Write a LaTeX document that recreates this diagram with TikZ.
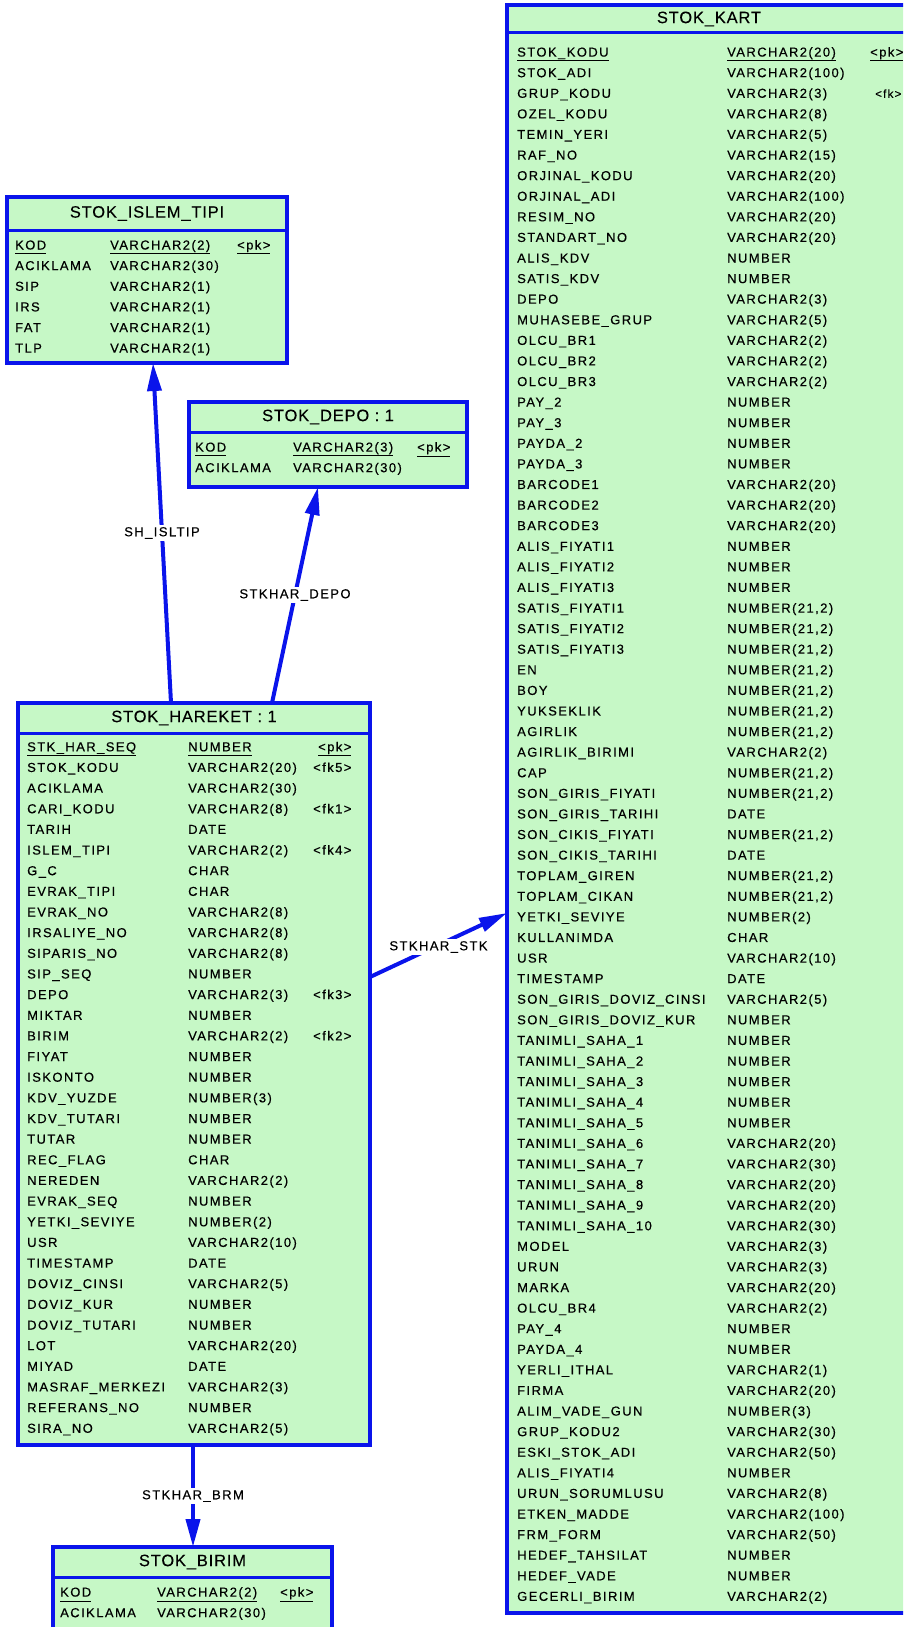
\documentclass[tikz,border=0pt]{standalone}
\usepackage{xcolor}
\usepackage{fontspec}
\usepackage{tikz}
\usetikzlibrary{arrows.meta}
\setmainfont{Liberation Sans}
\newfontfamily\erfont[LetterSpace=11, FakeBold=0.4]{Liberation Sans}
\newfontfamily\hdfont[LetterSpace=5, FakeBold=0.2]{Liberation Sans}
\definecolor{erblue}{RGB}{10,20,235}
\definecolor{ergreen}{RGB}{198,248,198}
\newcommand{\pkline}[1]{\underline{\vphantom{()}#1}}
\tikzset{
  tablebox/.style={rectangle, draw=erblue, fill=ergreen, line width=4pt,
    inner sep=0pt, outer sep=0pt, anchor=north west},
  sepline/.style={draw=erblue, line width=3pt},
  tabtitle/.style={font=\hdfont\fontsize{16.5}{18}\selectfont, inner sep=0pt},
  fieldtxt/.style={font=\erfont\fontsize{13}{15}\selectfont, anchor=base west, inner sep=0pt},
  reftxt/.style={font=\erfont\fontsize{13}{15}\selectfont, fill=white, inner sep=2pt},
  refline/.style={draw=erblue, line width=4pt, -{Triangle[length=28pt,width=14pt]}}
}

\begin{document}
\begin{tikzpicture}[x=1pt, y=-1pt]
  \useasboundingbox (0,0) rectangle (903,1627);
  \clip (0,0) rectangle (903,1627);

  % STOK_ISLEM_TIPI
  \node[tablebox, minimum width=280pt, minimum height=166pt] (islem) at (7,197) {};
  \draw[sepline] ([yshift=-33pt]islem.north west) -- ([yshift=-33pt]islem.north east);
  \node[tabtitle] (islem-title) at ([yshift=-16.5pt]islem.north) {STOK\_ISLEM\_TIPI};
  \node[fieldtxt] (islem-f0) at (15,249.5) {\pkline{KOD}};
  \node[fieldtxt] (islem-t0) at (110,249.5) {\pkline{VARCHAR2(2)}};
  \node[fieldtxt] (islem-k0) at (237,249.5) {\pkline{<pk>}};
  \foreach \f/\t [count=\i from 1] in {ACIKLAMA/VARCHAR2(30), SIP/VARCHAR2(1),
      IRS/VARCHAR2(1), FAT/VARCHAR2(1), TLP/VARCHAR2(1)} {
    \node[fieldtxt] (islem-f\i) at (15,{249.5+\i*20.63}) {\f};
    \node[fieldtxt] (islem-t\i) at (110,{249.5+\i*20.63}) {\t};
  }

  % STOK_DEPO
  \node[tablebox, minimum width=278pt, minimum height=85pt] (depo) at (189,402) {};
  \draw[sepline] ([yshift=-30pt]depo.north west) -- ([yshift=-30pt]depo.north east);
  \node[tabtitle] (depo-title) at ([yshift=-15pt]depo.north) {STOK\_DEPO : 1};
  \node[fieldtxt] (depo-f0) at (195,451.6) {\pkline{KOD}};
  \node[fieldtxt] (depo-t0) at (293,451.6) {\pkline{VARCHAR2(3)}};
  \node[fieldtxt] (depo-k0) at (417,451.6) {\pkline{<pk>}};
  \node[fieldtxt] (depo-f1) at (195,472.2) {ACIKLAMA};
  \node[fieldtxt] (depo-t1) at (293,472.2) {VARCHAR2(30)};

  % STOK_KART
  \node[tablebox, minimum width=404pt, minimum height=1608pt] (kart) at (507,5) {};
  \draw[sepline] ([yshift=-28pt]kart.north west) -- ([yshift=-28pt]kart.north east);
  \node[tabtitle] (kart-title) at ([yshift=-14pt]kart.north) {STOK\_KART};
  \node[fieldtxt] (kart-f0) at (517,56.6) {\pkline{STOK\_KODU}};
  \node[fieldtxt] (kart-t0) at (727,56.6) {\pkline{VARCHAR2(20)}};
  \node[fieldtxt] (kart-k0) at (870,56.6) {\pkline{<pk>}};
  \foreach \f/\t [count=\i from 1] in {
      STOK\_ADI/VARCHAR2(100), GRUP\_KODU/VARCHAR2(3), OZEL\_KODU/VARCHAR2(8),
      TEMIN\_YERI/VARCHAR2(5), RAF\_NO/VARCHAR2(15), ORJINAL\_KODU/VARCHAR2(20),
      ORJINAL\_ADI/VARCHAR2(100), RESIM\_NO/VARCHAR2(20), STANDART\_NO/VARCHAR2(20),
      ALIS\_KDV/NUMBER, SATIS\_KDV/NUMBER, DEPO/VARCHAR2(3),
      MUHASEBE\_GRUP/VARCHAR2(5), OLCU\_BR1/VARCHAR2(2), OLCU\_BR2/VARCHAR2(2),
      OLCU\_BR3/VARCHAR2(2), PAY\_2/NUMBER, PAY\_3/NUMBER, PAYDA\_2/NUMBER,
      PAYDA\_3/NUMBER, BARCODE1/VARCHAR2(20), BARCODE2/VARCHAR2(20),
      BARCODE3/VARCHAR2(20), ALIS\_FIYATI1/NUMBER, ALIS\_FIYATI2/NUMBER,
      ALIS\_FIYATI3/NUMBER, SATIS\_FIYATI1/{NUMBER(21,2)}, SATIS\_FIYATI2/{NUMBER(21,2)},
      SATIS\_FIYATI3/{NUMBER(21,2)}, EN/{NUMBER(21,2)}, BOY/{NUMBER(21,2)},
      YUKSEKLIK/{NUMBER(21,2)}, AGIRLIK/{NUMBER(21,2)}, AGIRLIK\_BIRIMI/VARCHAR2(2),
      CAP/{NUMBER(21,2)}, SON\_GIRIS\_FIYATI/{NUMBER(21,2)}, SON\_GIRIS\_TARIHI/DATE,
      SON\_CIKIS\_FIYATI/{NUMBER(21,2)}, SON\_CIKIS\_TARIHI/DATE,
      TOPLAM\_GIREN/{NUMBER(21,2)}, TOPLAM\_CIKAN/{NUMBER(21,2)},
      YETKI\_SEVIYE/NUMBER(2), KULLANIMDA/CHAR, USR/VARCHAR2(10), TIMESTAMP/DATE,
      SON\_GIRIS\_DOVIZ\_CINSI/VARCHAR2(5), SON\_GIRIS\_DOVIZ\_KUR/NUMBER,
      TANIMLI\_SAHA\_1/NUMBER, TANIMLI\_SAHA\_2/NUMBER, TANIMLI\_SAHA\_3/NUMBER,
      TANIMLI\_SAHA\_4/NUMBER, TANIMLI\_SAHA\_5/NUMBER, TANIMLI\_SAHA\_6/VARCHAR2(20),
      TANIMLI\_SAHA\_7/VARCHAR2(30), TANIMLI\_SAHA\_8/VARCHAR2(20),
      TANIMLI\_SAHA\_9/VARCHAR2(20), TANIMLI\_SAHA\_10/VARCHAR2(30),
      MODEL/VARCHAR2(3), URUN/VARCHAR2(3), MARKA/VARCHAR2(20), OLCU\_BR4/VARCHAR2(2),
      PAY\_4/NUMBER, PAYDA\_4/NUMBER, YERLI\_ITHAL/VARCHAR2(1), FIRMA/VARCHAR2(20),
      ALIM\_VADE\_GUN/NUMBER(3), GRUP\_KODU2/VARCHAR2(30), ESKI\_STOK\_ADI/VARCHAR2(50),
      ALIS\_FIYATI4/NUMBER, URUN\_SORUMLUSU/VARCHAR2(8), ETKEN\_MADDE/VARCHAR2(100),
      FRM\_FORM/VARCHAR2(50), HEDEF\_TAHSILAT/NUMBER, HEDEF\_VADE/NUMBER,
      GECERLI\_BIRIM/VARCHAR2(2)} {
    \node[fieldtxt] (kart-f\i) at (517,{56.6+\i*20.59}) {\f};
    \node[fieldtxt] (kart-t\i) at (727,{56.6+\i*20.59}) {\t};
  }
  \node[fieldtxt, font=\erfont\fontsize{11.5}{13}\selectfont] (kart-k2) at (875,{56.6+2*20.59})
    {<fk>};

  % STOK_HAREKET
  \node[tablebox, minimum width=352pt, minimum height=742pt] (hareket) at (18,703) {};
  \draw[sepline] ([yshift=-30pt]hareket.north west) -- ([yshift=-30pt]hareket.north east);
  \node[tabtitle] (hareket-title) at ([yshift=-15pt]hareket.north) {STOK\_HAREKET : 1};
  \node[fieldtxt] (hareket-f0) at (27,751.3) {\pkline{STK\_HAR\_SEQ}};
  \node[fieldtxt] (hareket-t0) at (188,751.3) {\pkline{NUMBER}};
  \node[fieldtxt] (hareket-k0) at (318,751.3) {\pkline{<pk>}};
  \foreach \f/\t [count=\i from 1] in {
      STOK\_KODU/VARCHAR2(20), ACIKLAMA/VARCHAR2(30), CARI\_KODU/VARCHAR2(8),
      TARIH/DATE, ISLEM\_TIPI/VARCHAR2(2), G\_C/CHAR, EVRAK\_TIPI/CHAR,
      EVRAK\_NO/VARCHAR2(8), IRSALIYE\_NO/VARCHAR2(8), SIPARIS\_NO/VARCHAR2(8),
      SIP\_SEQ/NUMBER, DEPO/VARCHAR2(3), MIKTAR/NUMBER, BIRIM/VARCHAR2(2),
      FIYAT/NUMBER, ISKONTO/NUMBER, KDV\_YUZDE/NUMBER(3), KDV\_TUTARI/NUMBER,
      TUTAR/NUMBER, REC\_FLAG/CHAR, NEREDEN/VARCHAR2(2), EVRAK\_SEQ/NUMBER,
      YETKI\_SEVIYE/NUMBER(2), USR/VARCHAR2(10), TIMESTAMP/DATE,
      DOVIZ\_CINSI/VARCHAR2(5), DOVIZ\_KUR/NUMBER, DOVIZ\_TUTARI/NUMBER,
      LOT/VARCHAR2(20), MIYAD/DATE, MASRAF\_MERKEZI/VARCHAR2(3),
      REFERANS\_NO/NUMBER, SIRA\_NO/VARCHAR2(5)} {
    \node[fieldtxt] (hareket-f\i) at (27,{751.3+\i*20.65}) {\f};
    \node[fieldtxt] (hareket-t\i) at (188,{751.3+\i*20.65}) {\t};
  }
  \foreach \k/\i in {fk5/1, fk1/3, fk4/5, fk3/12, fk2/14} {
    \node[fieldtxt] (hareket-k\i) at (313,{751.3+\i*20.65}) {<\k>};
  }

  % STOK_BIRIM
  \node[tablebox, minimum width=279pt, minimum height=95pt] (birim) at (53,1547) {};
  \draw[sepline] ([yshift=-30pt]birim.north west) -- ([yshift=-30pt]birim.north east);
  \node[tabtitle] (birim-title) at ([yshift=-15pt]birim.north) {STOK\_BIRIM};
  \node[fieldtxt] (birim-f0) at (60,1596.6) {\pkline{KOD}};
  \node[fieldtxt] (birim-t0) at (157,1596.6) {\pkline{VARCHAR2(2)}};
  \node[fieldtxt] (birim-k0) at (280,1596.6) {\pkline{<pk>}};
  \node[fieldtxt] (birim-f1) at (60,1617.2) {ACIKLAMA};
  \node[fieldtxt] (birim-t1) at (157,1617.2) {VARCHAR2(30)};

  % references
  \draw[refline] ([xshift=153pt]hareket.north west) -- node[reftxt] (ref-isl) {SH\_ISLTIP}
    ([xshift=146pt]islem.south west);
  \draw[refline] ([xshift=254pt]hareket.north west) -- node[reftxt] (ref-depo) {STKHAR\_DEPO}
    ([xshift=129pt]depo.south west);
  \draw[refline] ([yshift=-274pt]hareket.north east) -- node[reftxt, yshift=-2pt] (ref-stk) {STKHAR\_STK}
    ([yshift=-908pt]kart.north west);
  \draw[refline] ([xshift=175pt]hareket.south west) -- node[reftxt] (ref-brm) {STKHAR\_BRM}
    ([xshift=140pt]birim.north west);
\end{tikzpicture}
\end{document}
